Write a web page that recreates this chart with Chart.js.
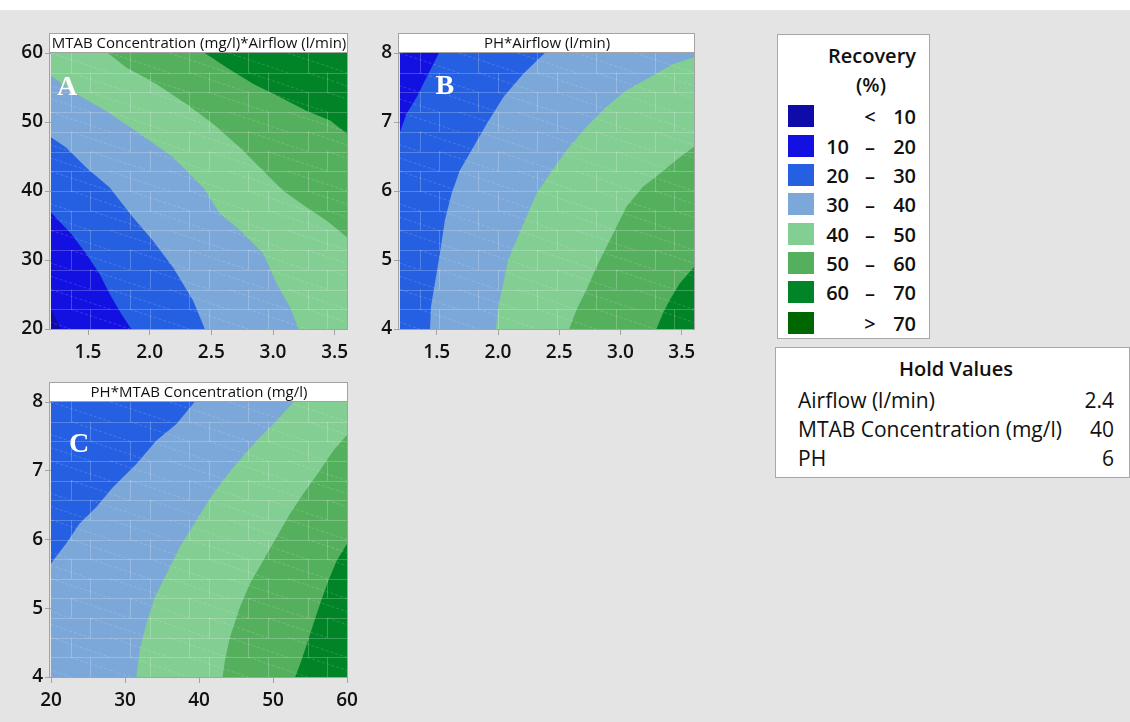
<!DOCTYPE html>
<html>
<head>
<meta charset="utf-8">
<title>Recovery contour plots</title>
<script src="https://cdn.jsdelivr.net/npm/chart.js@4.4.1/dist/chart.umd.min.js"></script>
<style>
  html, body { margin: 0; padding: 0; }
  body {
    width: 1130px; height: 722px; position: relative; overflow: hidden;
    background: #e4e4e4;
    font-family: "Open Sans", "Noto Sans", "DejaVu Sans", sans-serif;
    color: #111;
  }
  #topBand { position: absolute; left: 0; top: 0; width: 1130px; height: 10px; background: #fff; }
  canvas { position: absolute; }
  .box { position: absolute; background: #fff; border: 1px solid #a8a8a8; box-sizing: border-box; }
  .t { position: absolute; white-space: nowrap; transform: translateY(-50%); }
  .sw { position: absolute; width: 26px; height: 22px; }
</style>
</head>
<body>
<div id="topBand"></div>
<canvas id="panelA" width="360" height="330" style="left:0px;top:30px"></canvas>
<canvas id="panelB" width="360" height="330" style="left:360px;top:30px"></canvas>
<canvas id="panelC" width="380" height="343" style="left:0px;top:379px"></canvas>
<div id="legendBox" class="box" style="left:777px;top:34px;width:153px;height:305px"></div>
<div id="holdBox" class="box" style="left:775px;top:347px;width:355px;height:131px"></div>

<script>
// ---- Recovery (%) bands ----
const bandColors = ['#0f0ba8', '#1310e2', '#2560e2', '#7ca7d9', '#83ce92', '#55b05e', '#008427', '#006600'];
const bandLow    = ['', '10', '20', '30', '40', '50', '60', ''];
const bandSym    = ['<', '–', '–', '–', '–', '–', '–', '>'];
const bandHigh   = ['10', '20', '30', '40', '50', '60', '70', '70'];

// ---- Hold values ----
const holdNames  = ['Airflow (l/min)', 'MTAB Concentration (mg/l)', 'PH'];
const holdValues = ['2.4', '40', '6'];

// ---- Axis ranges and tick labels ----
const airflowRange = [1.2, 3.6];
const mtabRange    = [20, 60];
const phRange      = [4, 8];
const airflowTicks = [1.5, 2.0, 2.5, 3.0, 3.5];
const mtabTicks    = [20, 30, 40, 50, 60];
const phTicks      = [4, 5, 6, 7, 8];

// ---- Panel A: MTAB Concentration (y) vs Airflow (x); contour lines [airflow, mtab] ----
const levelsA = [10, 20, 30, 40, 50, 60];
const contourA10 = [[1.2, 22.9], [1.28, 20]];
const contourA20 = [[1.2, 36.9], [1.363, 33.8], [1.485, 30.9], [1.593, 28.0], [1.675, 25.1], [1.769, 22.2], [1.851, 20]];
const contourA30 = [[1.2, 47.8], [1.322, 46.3], [1.485, 43.4], [1.675, 40.5], [1.864, 36.2], [2.027, 32.8], [2.19, 28.9], [2.353, 24.1], [2.447, 20]];
const contourA40 = [[1.2, 56.7], [1.403, 54.1], [1.647, 51.6], [1.919, 48.3], [2.19, 44.9], [2.434, 40.5], [2.57, 36.7], [2.732, 34.3], [2.922, 30.9], [3.031, 26.5], [3.139, 23.1], [3.207, 20]];
const contourA50 = [[1.661, 60], [1.81, 57.9], [2.054, 55.5], [2.298, 52.6], [2.515, 49.7], [2.732, 46.3], [2.922, 42.9], [3.085, 40.0], [3.275, 37.6], [3.437, 35.7], [3.6, 33.3]];
const contourA60 = [[2.447, 60], [2.624, 57.9], [2.841, 55.5], [3.058, 53.6], [3.275, 51.6], [3.464, 50.2], [3.6, 48.3]];

// ---- Panel B: PH (y) vs Airflow (x); contour lines [airflow, ph] ----
const levelsB = [20, 30, 40, 50, 60];
const contourB20 = [[1.518, 8], [1.417, 7.65], [1.336, 7.36], [1.254, 7.12], [1.2, 6.86]];
const contourB30 = [[2.382, 8], [2.206, 7.70], [2.043, 7.36], [1.907, 6.97], [1.784, 6.59], [1.689, 6.30], [1.621, 5.96], [1.567, 5.58], [1.526, 5.10], [1.485, 4.66], [1.453, 4.33], [1.445, 4]];
const contourB40 = [[3.6, 7.94], [3.429, 7.84], [3.239, 7.65], [3.048, 7.46], [2.885, 7.22], [2.722, 6.93], [2.559, 6.59], [2.423, 6.25], [2.314, 5.96], [2.233, 5.63], [2.151, 5.29], [2.083, 5.0], [2.043, 4.66], [2.002, 4.33], [1.983, 4]];
const contourB50 = [[3.6, 6.64], [3.456, 6.45], [3.32, 6.25], [3.184, 6.06], [3.048, 5.77], [2.967, 5.48], [2.885, 5.19], [2.804, 4.90], [2.722, 4.57], [2.641, 4.28], [2.581, 4]];
const contourB60 = [[3.6, 4.90], [3.483, 4.66], [3.402, 4.42], [3.347, 4.23], [3.293, 4]];

// ---- Panel C: PH (y) vs MTAB Concentration (x); contour lines [mtab, ph] ----
const levelsC = [30, 40, 50, 60];
const contourC30 = [[39.4, 8], [36.95, 7.68], [34.24, 7.44], [31.53, 7.10], [28.36, 6.76], [26.10, 6.47], [23.84, 6.23], [22.03, 5.94], [20.68, 5.75], [20, 5.65]];
const contourC40 = [[52.77, 8], [50.51, 7.73], [47.80, 7.44], [44.63, 7.05], [41.92, 6.67], [39.66, 6.28], [37.40, 5.89], [35.59, 5.50], [34.01, 5.16], [32.88, 4.78], [31.98, 4.39], [31.53, 4]];
const contourC50 = [[60, 7.52], [58.19, 7.30], [56.38, 7.01], [54.12, 6.67], [52.32, 6.38], [50.51, 6.04], [48.70, 5.70], [46.89, 5.36], [45.54, 5.02], [44.18, 4.58], [43.50, 4.24], [43.19, 4]];
const contourC60 = [[60, 5.94], [58.64, 5.70], [57.51, 5.41], [56.38, 5.07], [55.48, 4.78], [54.58, 4.48], [53.67, 4.19], [52.99, 4]];

// ---- Region polygons: each contour is closed along the plot border on its high side ----
function perimeterPos(p, xr, yr) {
  const [x, y] = p, w = xr[1] - xr[0], h = yr[1] - yr[0], eps = 1e-9;
  if (Math.abs(y - yr[0]) < eps) return (x - xr[0]) / w;        // bottom
  if (Math.abs(x - xr[1]) < eps) return 1 + (y - yr[0]) / h;    // right
  if (Math.abs(y - yr[1]) < eps) return 2 + (xr[1] - x) / w;    // top
  return 3 + (yr[1] - y) / h;                                   // left
}
function cornersBetween(from, to, xr, yr) {
  const corners = [[xr[1], yr[0]], [xr[1], yr[1]], [xr[0], yr[1]], [xr[0], yr[0]]];
  const t0 = perimeterPos(from, xr, yr);
  let t1 = perimeterPos(to, xr, yr);
  if (t1 <= t0) t1 += 4;
  const out = [];
  for (let k = 1; k <= 8; k++) if (k > t0 && k < t1) out.push(corners[(k - 1) % 4]);
  return out;
}
function regionDataset(points, color, order) {
  return {
    data: points.map(([x, y]) => ({ x, y })),
    showLine: true, fill: 'shape', order,
    backgroundColor: color, borderColor: color, borderWidth: 0,
    pointRadius: 0, pointHoverRadius: 0
  };
}
// Higher bands are painted later (lower order value = drawn on top)
function buildRegions(contours, levels, xr, yr) {
  const base = levels[0] / 10 - 1;
  const n = contours.length;
  const sets = [regionDataset([[xr[0], yr[0]], [xr[1], yr[0]], [xr[1], yr[1]], [xr[0], yr[1]]], bandColors[base], n + 1)];
  contours.forEach((c, i) => {
    const poly = c.concat(cornersBetween(c[c.length - 1], c[0], xr, yr));
    sets.push(regionDataset(poly, bandColors[levels[i] / 10], n - i));
  });
  return sets;
}

// ---- Faint interpolation mesh over the filled regions ----
const meshOverlay = {
  id: 'meshOverlay',
  afterDatasetsDraw(chart) {
    const { ctx, chartArea: a } = chart;
    const rows = 14, cols = 15;
    const ch = (a.bottom - a.top) / rows, cw = (a.right - a.left) / cols;
    ctx.save();
    ctx.beginPath();
    ctx.rect(a.left, a.top, a.right - a.left, a.bottom - a.top);
    ctx.clip();
    ctx.lineWidth = 1;
    ctx.strokeStyle = 'rgba(255,255,255,0.22)';
    ctx.beginPath();
    for (let r = 1; r < rows; r++) {
      const y = Math.round(a.top + r * ch) + 0.5;
      ctx.moveTo(a.left, y); ctx.lineTo(a.right, y);
    }
    for (let r = 0; r < rows; r++) {
      for (let c = (r % 2) + 1; c < cols; c += 3) {
        const x = Math.round(a.left + c * cw) + 0.5;
        ctx.moveTo(x, a.top + r * ch); ctx.lineTo(x, a.top + (r + 1) * ch);
      }
    }
    ctx.stroke();
    ctx.strokeStyle = 'rgba(255,255,255,0.16)';
    ctx.setLineDash([3, 2]);
    ctx.beginPath();
    for (let r = -1; r < rows; r++) {
      for (let c = (r % 3 + 3) % 3 - 3; c < cols; c += 3) {
        ctx.moveTo(a.left + c * cw, a.top + r * ch);
        ctx.lineTo(a.left + (c + 3) * cw, a.top + (r + 1) * ch);
      }
    }
    ctx.stroke();
    ctx.restore();
  }
};

// ---- Frame, title strip and panel letter ----
const panelFrame = {
  id: 'panelFrame',
  afterDraw(chart, args, opts) {
    const { ctx, chartArea: a } = chart;
    const h = opts.stripHeight;
    ctx.save();
    ctx.strokeStyle = '#a3a3a3';
    ctx.lineWidth = 1;
    ctx.fillStyle = '#ffffff';
    ctx.fillRect(a.left - 1, a.top - h, a.right - a.left + 2, h);
    ctx.strokeRect(a.left - 1.5, a.top - h - 0.5, a.right - a.left + 2, h);
    ctx.strokeRect(a.left - 1.5, a.top - 0.5, a.right - a.left + 2, a.bottom - a.top + 1);
    ctx.fillStyle = '#111';
    ctx.font = '500 15px "Open Sans", "Noto Sans", sans-serif';
    ctx.textAlign = 'center';
    ctx.textBaseline = 'middle';
    ctx.fillText(opts.text, (a.left + a.right) / 2, a.top - h / 2 + 0.5);
    ctx.fillStyle = '#ffffff';
    ctx.font = 'bold 28px "Liberation Serif", "DejaVu Serif", serif';
    ctx.fillText(opts.letter, chart.scales.x.getPixelForValue(opts.letterAt[0]), chart.scales.y.getPixelForValue(opts.letterAt[1]));
    ctx.restore();
  }
};

const tickFont = { family: '"Open Sans", "Noto Sans", sans-serif', size: 19, weight: '600' };

function axis(range, ticks, decimals, fitSize, isX) {
  return {
    type: 'linear', min: range[0], max: range[1],
    afterBuildTicks: s => { s.ticks = ticks.map(v => ({ value: v })); },
    afterFit: s => { if (isX) s.height = fitSize; else s.width = fitSize; },
    grid: { display: true, drawOnChartArea: false, drawTicks: true, tickLength: 6, color: '#a3a3a3' },
    border: { display: true, color: '#a3a3a3' },
    ticks: { font: tickFont, color: '#111', padding: isX ? 6 : 2, maxRotation: 0, autoSkip: false,
             callback: v => Number(v).toFixed(decimals) }
  };
}

function makePanel(id, datasets, xAxis, yAxis, padding, frame) {
  return new Chart(document.getElementById(id), {
    type: 'scatter',
    data: { datasets },
    options: {
      responsive: false, animation: false, events: [],
      layout: { padding },
      scales: { x: xAxis, y: yAxis },
      plugins: { legend: { display: false }, tooltip: { enabled: false }, panelFrame: frame }
    },
    plugins: [meshOverlay, panelFrame]
  });
}

makePanel('panelA',
  buildRegions([contourA10, contourA20, contourA30, contourA40, contourA50, contourA60], levelsA, airflowRange, mtabRange),
  axis(airflowRange, airflowTicks, 1, 31, true),
  axis(mtabRange, mtabTicks, 0, 51, false),
  { top: 23, right: 13, bottom: 0, left: 0 },
  { text: 'MTAB Concentration (mg/l)*Airflow (l/min)', stripHeight: 19, letter: 'A', letterAt: [1.33, 54.9] });

makePanel('panelB',
  buildRegions([contourB20, contourB30, contourB40, contourB50, contourB60], levelsB, airflowRange, phRange),
  axis(airflowRange, airflowTicks, 1, 31, true),
  axis(phRange, phTicks, 0, 40, false),
  { top: 23, right: 26, bottom: 0, left: 0 },
  { text: 'PH*Airflow (l/min)', stripHeight: 19, letter: 'B', letterAt: [1.567, 7.51] });

makePanel('panelC',
  buildRegions([contourC30, contourC40, contourC50, contourC60], levelsC, mtabRange, phRange),
  axis(mtabRange, mtabTicks, 0, 45, true),
  axis(phRange, phTicks, 0, 51, false),
  { top: 23, right: 33, bottom: 0, left: 0 },
  { text: 'PH*MTAB Concentration (mg/l)', stripHeight: 19, letter: 'C', letterAt: [23.8, 7.38] });

// ---- Legend: Recovery (%) ----
(function buildLegend() {
  const box = document.getElementById('legendBox');
  const ox = 777, oy = 34;
  function put(parent, html, x, y, style) {
    const d = document.createElement('div');
    d.className = 't';
    d.textContent = html;
    d.style.cssText += `left:${x}px;top:${y}px;` + (style || '');
    parent.appendChild(d);
    return d;
  }
  const head = 'font-size:20px;font-weight:600;width:120px;text-align:center;';
  put(box, 'Recovery', 871 - ox - 60, 54 - oy, head);
  put(box, '(%)', 870 - ox - 60, 83 - oy, head);
  const rowTops = [104, 134, 163, 192, 222, 251, 280, 311];
  const rowFont = 'font-size:20px;font-weight:600;';
  bandColors.forEach((c, i) => {
    const sw = document.createElement('div');
    sw.className = 'sw';
    sw.style.left = (787 - ox) + 'px';
    sw.style.top = (rowTops[i] - oy) + 'px';
    sw.style.background = c;
    box.appendChild(sw);
    const cy = rowTops[i] + 11 - oy;
    put(box, bandLow[i], 818 - ox, cy, rowFont + 'width:30px;text-align:right;');
    put(box, bandSym[i], 859 - ox, cy, rowFont + 'width:20px;text-align:center;');
    put(box, bandHigh[i], 875 - ox, cy, rowFont + 'width:40px;text-align:right;');
  });
})();

// ---- Hold values table ----
(function buildHold() {
  const box = document.getElementById('holdBox');
  const ox = 775, oy = 347;
  function put(text, x, y, style) {
    const d = document.createElement('div');
    d.className = 't';
    d.textContent = text;
    d.style.cssText += `left:${x}px;top:${y}px;` + style;
    box.appendChild(d);
  }
  put('Hold Values', 955 - ox - 100, 367 - oy, 'font-size:20px;font-weight:600;width:200px;text-align:center;');
  const rowY = [399, 428, 457];
  holdNames.forEach((n, i) => {
    put(n, 797 - ox, rowY[i] - oy, 'font-size:21px;');
    put(holdValues[i], 1113 - ox - 60, rowY[i] - oy, 'font-size:21px;width:60px;text-align:right;');
  });
})();
</script>
</body>
</html>
